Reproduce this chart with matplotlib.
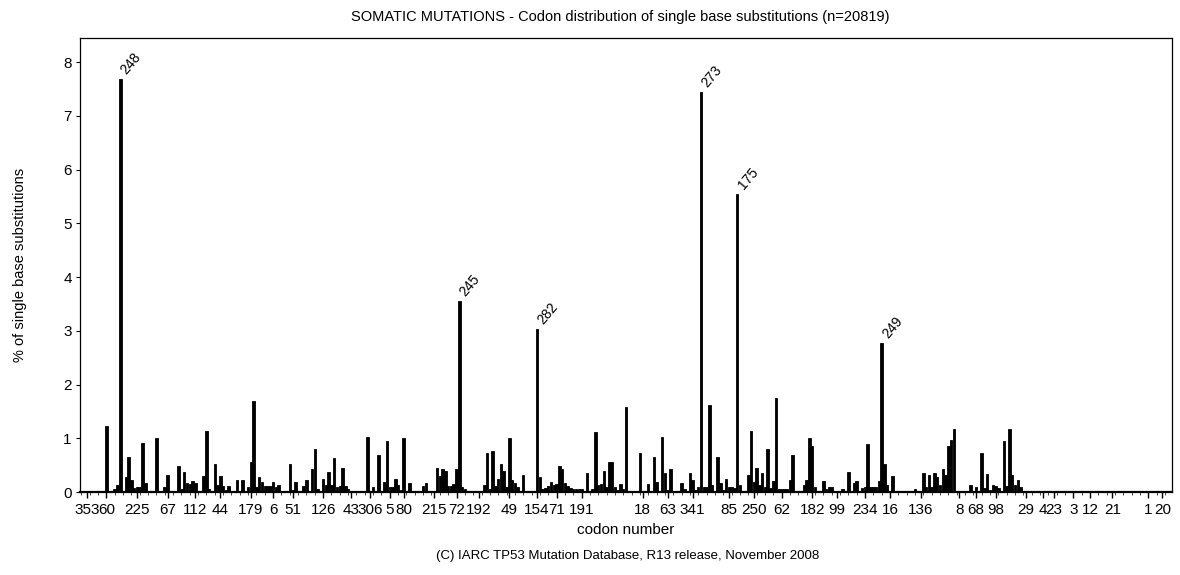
import matplotlib
matplotlib.use("Agg")
import matplotlib.pyplot as plt
import numpy as np

plt.rcParams['font.family'] = ['Liberation Sans', 'DejaVu Sans']

# % of single base substitutions per codon position (in chart order, 393 codons)
pct = [
    0, 0, 0, 0, 0, 0, 0, 0, 0, 1.22,
    0, 0, 0.05, 0.13, 7.68, 0.02, 0.27, 0.65, 0.22, 0.07,
    0.09, 0.09, 0.91, 0.16, 0, 0, 0, 1.0, 0, 0,
    0.09, 0.31, 0, 0, 0, 0.48, 0.06, 0.38, 0.17, 0.15,
    0.2, 0.17, 0.02, 0.02, 0.29, 1.14, 0.06, 0.02, 0.52, 0.13,
    0.29, 0.11, 0.03, 0.11, 0, 0, 0.22, 0.02, 0.22, 0,
    0.09, 0.55, 1.7, 0.09, 0.27, 0.19, 0.11, 0.11, 0.11, 0.19,
    0.09, 0.13, 0.02, 0, 0, 0.52, 0.03, 0.19, 0, 0,
    0.11, 0.22, 0, 0.42, 0.8, 0.06, 0, 0.25, 0.13, 0.37,
    0.13, 0.63, 0.09, 0.11, 0.45, 0.11, 0.05, 0, 0, 0,
    0, 0, 0, 1.03, 0, 0.09, 0, 0.69, 0, 0.19,
    0.94, 0.09, 0.09, 0.25, 0.13, 0.03, 1.0, 0.02, 0.17, 0,
    0, 0, 0, 0.11, 0.16, 0, 0, 0, 0.45, 0.29,
    0.42, 0.39, 0.11, 0.11, 0.14, 0.42, 3.55, 0.09, 0.05, 0,
    0, 0, 0, 0, 0, 0.13, 0.73, 0.05, 0.77, 0.11,
    0.25, 0.52, 0.4, 0.09, 1.0, 0.22, 0.16, 0.09, 0, 0.31,
    0.02, 0, 0, 0, 3.03, 0.27, 0.05, 0.07, 0.11, 0.19,
    0.13, 0.14, 0.48, 0.42, 0.17, 0.11, 0.07, 0.05, 0.05, 0.05,
    0.05, 0, 0.35, 0, 0.05, 1.11, 0.13, 0.14, 0.4, 0.09,
    0.56, 0.55, 0.09, 0.04, 0.14, 0.06, 1.59, 0, 0, 0,
    0, 0.72, 0.02, 0.02, 0.15, 0.02, 0.65, 0.19, 0.02, 1.03,
    0.35, 0.03, 0.42, 0.02, 0.02, 0.02, 0.17, 0.05, 0, 0.35,
    0.22, 0.03, 0.09, 7.45, 0.09, 0.09, 1.62, 0.13, 0.02, 0.65,
    0.17, 0.03, 0.25, 0.09, 0.09, 0.07, 5.55, 0.13, 0.02, 0.02,
    0.31, 1.14, 0.19, 0.45, 0.13, 0.35, 0.09, 0.8, 0.07, 0.2,
    1.75, 0.05, 0.05, 0.05, 0.05, 0.22, 0.69, 0, 0, 0,
    0.13, 0.22, 1.0, 0.86, 0.09, 0.02, 0.02, 0.2, 0.05, 0.09,
    0.09, 0, 0, 0, 0.05, 0, 0.37, 0.02, 0.16, 0.2,
    0.02, 0.07, 0.09, 0.89, 0.09, 0.09, 0.09, 0.2, 2.78, 0.53,
    0.13, 0.02, 0.29, 0, 0, 0, 0, 0, 0, 0,
    0.05, 0, 0, 0.35, 0.09, 0.31, 0.09, 0.35, 0.27, 0.13,
    0.42, 0.31, 0.86, 0.97, 1.17, 0.02, 0, 0, 0, 0,
    0.13, 0.02, 0.09, 0, 0.72, 0.07, 0.33, 0.03, 0.13, 0.11,
    0.07, 0, 0.94, 0.11, 1.17, 0.31, 0.13, 0.22, 0.09, 0.02,
] + [0] * 53

# labelled codons on the x axis and the chart position (category index) of each
tick_index = [2, 9, 20, 31, 41, 50, 61, 69, 76, 87, 97, 104, 111, 116, 127,
              135, 143, 154, 164, 171, 180, 202, 211, 220, 233, 242, 252, 263,
              272, 282, 291, 302, 316, 322, 329, 340, 346, 350, 357, 363, 371,
              384, 389]
tick_labels = ['353', '60', '225', '67', '112', '44', '179', '6', '51', '126',
               '43', '306', '5', '80', '215', '72', '192', '49', '154', '71',
               '191', '18', '63', '341', '85', '250', '62', '182', '99', '234',
               '16', '136', '8', '68', '98', '29', '4', '23', '3', '12', '21',
               '1', '20']

# hotspot codons annotated above the tallest bars (left to right)
hotspot_labels = ['248', '245', '282', '273', '175', '249']
hotspot_threshold = 2.5

y_ticks = [0, 1, 2, 3, 4, 5, 6, 7, 8]

fig = plt.figure(figsize=(11.8, 5.75), dpi=100)
ax = fig.add_axes([80 / 1180, 1 - 492 / 575, (1172 - 80) / 1180, (492 - 38) / 575])

x = np.arange(len(pct))
vals = np.array(pct)
ax.bar(x, vals, width=0.9, color='black', edgecolor='black', linewidth=0.6)

ax.set_xlim(-0.5, len(pct) - 0.5)
ax.set_ylim(0, 8.45)

ax.set_yticks(y_ticks)
ax.set_yticklabels([str(t) for t in y_ticks], fontsize=11)
ax.set_xticks(tick_index)
ax.set_xticklabels(tick_labels, fontsize=11)
ax.set_xticks(np.arange(0, len(pct), 3), minor=True)
ax.tick_params(axis='x', which='major', length=4, width=1, pad=4)
ax.tick_params(axis='x', which='minor', length=2, width=0.5)
ax.tick_params(axis='y', length=3, width=0.8, pad=3)

for s in ax.spines.values():
    s.set_linewidth(0.9)
ax.spines['bottom'].set_linewidth(1.6)

peaks = [i for i, v in enumerate(pct) if v > hotspot_threshold]
for lbl, i in zip(hotspot_labels, peaks):
    ax.text(i + 1.2, pct[i] + 0.12, lbl, rotation=50, fontsize=10,
            ha='left', va='center', rotation_mode='anchor')

ax.set_xlabel('codon number', fontsize=11, labelpad=4)
ax.set_ylabel('% of single base substitutions', fontsize=10.5, labelpad=26)

fig.text(620 / 1180, 1 - 17 / 575, 'SOMATIC MUTATIONS - Codon distribution of single base substitutions (n=20819)',
         ha='center', va='center', fontsize=10.5)
fig.text(628 / 1180, 1 - 556 / 575, '(C) IARC TP53 Mutation Database, R13 release, November 2008',
         ha='center', va='center', fontsize=9.5)

fig.savefig('out.png', dpi=100)
